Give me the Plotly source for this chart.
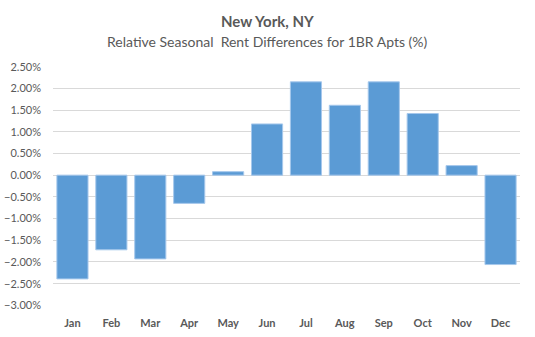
import plotly.graph_objects as go

months = ["Jan", "Feb", "Mar", "Apr", "May", "Jun", "Jul", "Aug", "Sep", "Oct", "Nov", "Dec"]
values = [-2.39, -1.72, -1.93, -0.65, 0.08, 1.18, 2.15, 1.61, 2.15, 1.42, 0.22, -2.06]
values_frac = [v / 100 for v in values]
tick_vals = [-0.03, -0.025, -0.02, -0.015, -0.01, -0.005, 0.0, 0.005, 0.01, 0.015, 0.02, 0.025]

title_main = "New York, NY"
title_sub = "Relative Seasonal\u00a0 Rent Differences for 1BR Apts (%)"

FONT = "Lato"
GRAY = "#595959"

fig = go.Figure()
fig.add_trace(go.Bar(
    x=months, y=values_frac,
    marker=dict(color="#5B9BD5", line=dict(color="#A6C8EC", width=1)),
    hoverinfo="x+y",
))

fig.update_layout(
    width=535, height=337,
    margin=dict(l=53, r=15, t=66, b=31),
    paper_bgcolor="white", plot_bgcolor="white",
    bargap=0.2,
    showlegend=False,
    font=dict(family=FONT, color=GRAY, size=11),
    xaxis=dict(
        showgrid=False, showline=False, zeroline=False, automargin=False,
        ticks="", tickfont=dict(family=FONT, size=11, color=GRAY, weight="bold"),
        ticklabelstandoff=9,
    ),
    yaxis=dict(
        range=[-0.03015, 0.02515], automargin=False,
        tickvals=tick_vals, tickformat=".2%",
        showgrid=True, gridcolor="#D9D9D9", gridwidth=1,
        zeroline=False, showline=False, ticks="",
        tickfont=dict(family=FONT, size=11, color=GRAY),
        ticklabelstandoff=11,
    ),
    annotations=[
        dict(text="<b>" + title_main + "</b>", x=0.5, y=21, xref="paper", yref="paper",
             showarrow=False, font=dict(family=FONT, size=15, color=GRAY)),
        dict(text=title_sub, x=0.5, y=42, xref="paper", yref="paper",
             showarrow=False, font=dict(family=FONT, size=14, color=GRAY)),
    ],
)

# position title annotations in pixel terms (convert to paper coordinates)
plot_h = 337 - 66 - 31
for ann, ypix in zip(fig.layout.annotations, [21, 42]):
    ann.y = (337 - 31 - ypix) / plot_h
    ann.yanchor = "middle"
    ann.x = (267.5 - 53) / (535 - 53 - 15)

fig.write_html("out.html")
